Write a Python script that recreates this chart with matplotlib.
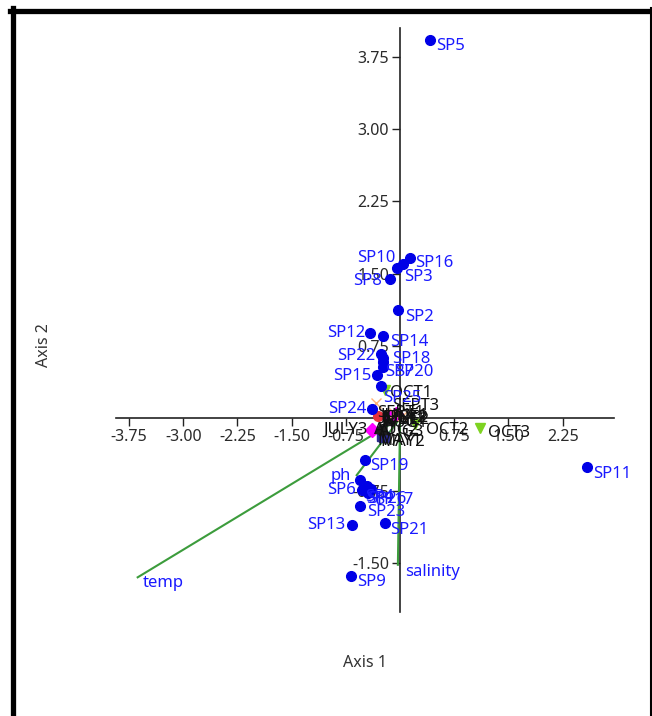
import matplotlib
matplotlib.use("Agg")
from matplotlib import pyplot as plt
from matplotlib.lines import Line2D

plt.rcParams['font.family'] = ['Noto Sans', 'DejaVu Sans']

# species scores (blue dots)
species = ["SP1", "SP2", "SP3", "SP4", "SP5", "SP6", "SP7", "SP8", "SP9", "SP10",
           "SP11", "SP12", "SP13", "SP14", "SP15", "SP16", "SP17", "SP18", "SP19",
           "SP20", "SP21", "SP22", "SP23", "SP24", "SP25", "SP26"]
sp_x = [-0.53, -0.03, 0.04, -0.46, 0.42, -0.55, -0.24, -0.14, -0.68, -0.04,
        2.59, -0.42, -0.66, -0.24, -0.32, 0.14, -0.40, -0.24, -0.48,
        -0.24, -0.21, -0.26, -0.55, -0.39, -0.26, -0.44]
sp_y = [-0.74, 1.12, 1.60, -0.70, 3.93, -0.64, 0.58, 1.45, -1.64, 1.56,
        -0.51, 0.88, -1.11, 0.85, 0.45, 1.66, -0.73, 0.63, -0.43,
        0.53, -1.09, 0.67, -0.91, 0.10, 0.34, -0.77]

# sample scores (months)
samples = ["MAY1", "MAY2", "JUNE1", "JUNE2", "JULY1", "JULY2", "JULY3", "AUG1",
           "AUG2", "AUG3", "SEPT1", "SEPT2", "SEPT3", "OCT1", "OCT2", "OCT3"]
sm_x = [-0.25, -0.22, -0.30, -0.18, -0.12, -0.05, -0.39, -0.15,
        -0.28, -0.24, -0.08, 0.02, -0.33, -0.21, 0.20, 1.11]
sm_y = [-0.18, -0.19, 0.02, 0.03, 0.01, 0.04, -0.12, -0.02,
        -0.10, -0.11, 0.05, 0.02, 0.16, 0.29, -0.06, -0.10]
sm_group = ["MAY", "MAY", "JUNE", "JUNE", "JULY", "JULY", "JULY", "AUG",
            "AUG", "AUG", "SEPT", "SEPT", "SEPT", "OCT", "OCT", "OCT"]

# environmental vectors
env = ["temp", "ph", "salinity"]
env_x = [-3.63, -0.60, -0.03]
env_y = [-1.65, -0.59, -1.52]

xticks = [-3.75, -3.00, -2.25, -1.50, -0.75, 0.75, 1.50, 2.25]
yticks = [-1.50, -0.75, 0.75, 1.50, 2.25, 3.00, 3.75]

group_style = {
    "MAY": dict(marker="s", color="#2b2b8c"),
    "JUNE": dict(marker="o", color="#e8323c"),
    "JULY": dict(marker="D", color="#ff00ff"),
    "AUG": dict(marker="^", color="#202020"),
    "SEPT": dict(marker="x", color="#ffb27a"),
    "OCT": dict(marker="v", color="#7ed321"),
}

# label offsets in pixels (dx right, dy down), alignment
sp_off = {
    "SP1": (4, 9, "left"), "SP2": (7, 7, "left"), "SP3": (1, 13, "left"),
    "SP4": (-2, 11, "left"), "SP5": (6, 6, "left"), "SP6": (-4, 10, "right"),
    "SP7": (2, 10, "left"), "SP8": (-8, 2, "right"), "SP9": (6, 6, "left"),
    "SP10": (-2, -10, "right"), "SP11": (6, 7, "left"), "SP12": (-4, 0, "right"),
    "SP13": (-7, 0, "right"), "SP14": (7, 6, "left"), "SP15": (-5, 1, "right"),
    "SP16": (5, 5, "left"), "SP17": (4, 11, "left"), "SP18": (9, 1, "left"),
    "SP19": (5, 6, "left"), "SP20": (12, 5, "left"), "SP21": (5, 7, "left"),
    "SP22": (-6, 2, "right"), "SP23": (7, 6, "left"), "SP24": (-5, 0, "right"),
    "SP25": (2, 12, "left"), "SP26": (0, 6, "left"),
}
sm_off = {
    "MAY1": (-5, 5, "left"), "MAY2": (-4, 5, "left"), "JUNE1": (2, -1, "left"),
    "JUNE2": (-6, 4, "left"), "JULY1": (-10, 2, "left"), "JULY2": (-14, 3, "left"),
    "JULY3": (-4, 0, "right"), "AUG1": (-6, 3, "left"), "AUG2": (-6, 2, "left"),
    "AUG3": (-4, 3, "left"), "SEPT1": (-17, 0, "left"), "SEPT2": (-20, 2, "left"),
    "SEPT3": (16, 3, "left"), "OCT1": (5, 3, "left"), "OCT2": (11, 6, "left"),
    "OCT3": (8, 5, "left"),
}
env_off = {"temp": (5, 6, "left"), "ph": (-6, 1, "right"), "salinity": (7, 7, "left")}

W, H = 652, 716
fig = plt.figure(figsize=(W / 100, H / 100), dpi=100)
ax = fig.add_axes([116 / W, (H - 612) / H, 498 / W, 584 / H])
ax.set_xlim(-3.93, 2.96)
ax.set_ylim(-2.01, 4.05)
ax.set_facecolor("none")

ax.spines['left'].set_position(('data', 0))
ax.spines['bottom'].set_position(('data', 0))
ax.spines['right'].set_visible(False)
ax.spines['top'].set_visible(False)
for s in ("left", "bottom"):
    ax.spines[s].set_linewidth(1.2)
    ax.spines[s].set_color("#222222")
    ax.spines[s].set_zorder(0.5)
ax.set_axisbelow(True)
ax.set_xticks(xticks)
ax.set_xticklabels(["%.2f" % v for v in xticks])
ax.set_yticks(yticks)
ax.set_yticklabels(["%.2f" % v for v in yticks])
ax.tick_params(length=6, width=1, color="#222222", labelsize=11.5,
               labelcolor="#2a2a2a", pad=2)

blue = "#1a1aff"
green = "#3c9c3c"
fs = 12

for name, x, y in zip(env, env_x, env_y):
    ax.plot([0, x], [0, y], color=green, lw=1.5, zorder=2, clip_on=False)
    dx, dy, ha = env_off[name]
    ax.annotate(name, (x, y), xytext=(dx, -dy), textcoords="offset pixels",
                ha=ha, va="center", color=blue, fontsize=fs, zorder=5)

for name, x, y, g in zip(samples, sm_x, sm_y, sm_group):
    st = group_style[g]
    ax.plot(x, y, linestyle="none", marker=st["marker"], color=st["color"],
            markersize=7, zorder=3, clip_on=False)
for name, x, y in zip(samples, sm_x, sm_y):
    dx, dy, ha = sm_off[name]
    ax.annotate(name, (x, y), xytext=(dx, -dy), textcoords="offset pixels",
                ha=ha, va="center", color="#111111", fontsize=fs, zorder=4)

ax.plot(sp_x, sp_y, linestyle="none", marker="o", color="#0000e6",
        markersize=7, zorder=6, clip_on=False)
for name, x, y in zip(species, sp_x, sp_y):
    dx, dy, ha = sp_off[name]
    ax.annotate(name, (x, y), xytext=(dx, -dy), textcoords="offset pixels",
                ha=ha, va="center", color=blue, fontsize=fs, zorder=7)

fig.text(365 / W, 1 - 663 / H, "Axis 1", ha="center", va="center",
         fontsize=11.5, color="#333333")
fig.text(44 / W, 1 - 345 / H, "Axis 2", ha="center", va="center",
         fontsize=11.5, color="#333333", rotation=90)

# window frame
fig.add_artist(Line2D([12.5 / W, 12.5 / W], [0, 1 - 8 / H], color="black",
                      lw=3.8, transform=fig.transFigure))
fig.add_artist(Line2D([10 / W, 1], [1 - 10.5 / H, 1 - 10.5 / H], color="black",
                      lw=3.8, transform=fig.transFigure))
fig.add_artist(Line2D([650.5 / W, 650.5 / W], [0, 1 - 8 / H], color="black",
                      lw=1.5, transform=fig.transFigure))

fig.savefig("out.png", dpi=100)
